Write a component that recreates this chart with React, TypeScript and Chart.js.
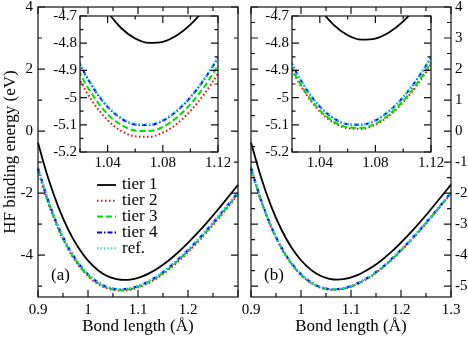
import React, { useEffect, useRef } from "react";
import { Chart, registerables } from "chart.js";

Chart.register(...registerables);

// ---------------- data ----------------
const BOND = [0.90, 0.92, 0.94, 0.96, 0.98, 1.00, 1.02, 1.03, 1.04, 1.05, 1.06, 1.07, 1.08, 1.09, 1.10, 1.11, 1.12, 1.14, 1.16, 1.18, 1.20, 1.22, 1.24, 1.26, 1.28, 1.30];

const A_TIER1 = [-0.38, -1.50, -2.42, -3.16, -3.74, -4.176, -4.486, -4.598, -4.684, -4.745, -4.783, -4.799, -4.795, -4.772, -4.732, -4.675, -4.603, -4.42, -4.19, -3.915, -3.605, -3.27, -2.91, -2.53, -2.135, -1.735];
const A_TIER2 = [-1.27, -2.30, -3.135, -3.80, -4.305, -4.68, -4.935, -5.021, -5.083, -5.123, -5.142, -5.144, -5.129, -5.097, -5.049, -4.987, -4.911, -4.722, -4.486, -4.211, -3.904, -3.572, -3.216, -2.841, -2.451, -2.05];
const A_TIER3 = [-1.23, -2.26, -3.10, -3.768, -4.275, -4.652, -4.910, -4.997, -5.061, -5.101, -5.121, -5.123, -5.108, -5.074, -5.024, -4.960, -4.881, -4.691, -4.454, -4.177, -3.868, -3.537, -3.181, -2.806, -2.416, -2.015];
const A_TIER4 = [-1.19, -2.22, -3.06, -3.725, -4.235, -4.613, -4.876, -4.967, -5.034, -5.077, -5.099, -5.101, -5.085, -5.050, -4.999, -4.933, -4.853, -4.66, -4.42, -4.14, -3.83, -3.495, -3.14, -2.765, -2.375, -1.975];
const REF = [-1.18, -2.21, -3.05, -3.72, -4.23, -4.61, -4.873, -4.964, -5.031, -5.074, -5.096, -5.098, -5.082, -5.047, -4.996, -4.930, -4.850, -4.656, -4.416, -4.137, -3.826, -3.492, -3.136, -2.761, -2.371, -1.970];

const B_TIER1 = [-0.37, -1.49, -2.41, -3.15, -3.73, -4.165, -4.474, -4.586, -4.672, -4.733, -4.771, -4.787, -4.783, -4.760, -4.720, -4.663, -4.591, -4.41, -4.18, -3.905, -3.595, -3.26, -2.90, -2.52, -2.125, -1.725];
const B_TIER2 = [-1.22, -2.25, -3.09, -3.756, -4.263, -4.64, -4.898, -4.986, -5.051, -5.092, -5.113, -5.115, -5.100, -5.066, -5.017, -4.953, -4.876, -4.685, -4.447, -4.17, -3.86, -3.526, -3.171, -2.796, -2.406, -2.005];
const B_TIER3 = [-1.21, -2.24, -3.08, -3.748, -4.256, -4.634, -4.893, -4.982, -5.047, -5.088, -5.109, -5.111, -5.096, -5.062, -5.012, -4.948, -4.870, -4.678, -4.440, -4.162, -3.851, -3.517, -3.161, -2.786, -2.396, -1.995];
const B_TIER4 = [-1.185, -2.215, -3.055, -3.722, -4.232, -4.612, -4.875, -4.966, -5.033, -5.076, -5.098, -5.100, -5.084, -5.049, -4.998, -4.932, -4.852, -4.658, -4.418, -4.139, -3.828, -3.494, -3.138, -2.763, -2.373, -1.972];

const LEGEND_LABELS = ["tier 1", "tier 2", "tier 3", "tier 4", "ref."];
const PANEL_LABELS = ["(a)", "(b)"];
const X_TITLE = "Bond length (\u00C5)";
const Y_TITLE = "HF binding energy (eV)";

// ticks
const MAIN_X_MAJOR = [0.9, 1.0, 1.1, 1.2, 1.3];
const MAIN_X_MINOR = [0.95, 1.05, 1.15, 1.25];
const A_X_LABELS = ["0.9", "1", "1.1", "1.2", ""];
const B_X_LABELS = ["0.9", "1", "1.1", "1.2", "1.3"];
const A_Y_MAJOR = [-4, -2, 0, 2, 4];
const A_Y_MINOR = [-5, -3, -1, 1, 3];
const A_Y_LABELS = ["-4", "-2", "0", "2", "4"];
const B_Y_MAJOR = [-5, -4, -3, -2, -1, 0, 1, 2, 3, 4];
const B_Y_MINOR = [-4.5, -3.5, -2.5, -1.5, -0.5, 0.5, 1.5, 2.5, 3.5];
const B_Y_LABELS = ["-5", "-4", "-3", "-2", "-1", "0", "1", "2", "3", "4"];
const INSET_X_MAJOR = [1.04, 1.08, 1.12];
const INSET_X_MINOR = [1.02, 1.06, 1.10];
const INSET_X_LABELS = ["1.04", "1.08", "1.12"];
const INSET_Y_MAJOR = [-5.2, -5.1, -5.0, -4.9, -4.8, -4.7];
const INSET_Y_MINOR = [-5.15, -5.05, -4.95, -4.85, -4.75];
const INSET_Y_LABELS = ["-5.2", "-5.1", "-5", "-4.9", "-4.8", "-4.7"];

// ---------------- styles ----------------
const FONT = "'Liberation Serif', 'Times New Roman', serif";
const SERIES_STYLE = [
  { color: "#000000", dash: [] as number[], width: 1.8, order: 4 },
  { color: "#ff0000", dash: [1.5, 2.5], width: 2, order: 3 },
  { color: "#00dd00", dash: [6, 3], width: 2, order: 2 },
  { color: "#0000ff", dash: [5, 2, 1.5, 2], width: 2, order: 1 },
  { color: "#22ddee", dash: [1.5, 2], width: 2, order: 0 },
];

type Spec = {
  left: number; top: number; width: number; height: number;
  padding: { left: number; top: number; right: number; bottom: number };
  xMin: number; xMax: number; yMin: number; yMax: number;
  xMajor: number[]; xMinor: number[]; xLabels: string[];
  yMajor: number[]; yMinor: number[]; yLabels: string[];
  yPos: "left" | "right";
  yAxisWidth: number; xAxisHeight: number;
  xPad: number; yPad: number;
  xTitle?: string; yTitle?: string;
  series: number[][];
  majorLen: number; minorLen: number;
  inset: boolean;
  panelLabel?: string; legend?: boolean;
};

const PANEL_A: Spec = {
  left: 0, top: 0, width: 245, height: 337,
  padding: { left: 0, top: 7, right: 7, bottom: 0 },
  xMin: 0.9, xMax: 1.3, yMin: -5.35, yMax: 4,
  xMajor: MAIN_X_MAJOR, xMinor: MAIN_X_MINOR, xLabels: A_X_LABELS,
  yMajor: A_Y_MAJOR, yMinor: A_Y_MINOR, yLabels: A_Y_LABELS,
  yPos: "left", yAxisWidth: 38, xAxisHeight: 40, xPad: 4, yPad: 5,
  xTitle: X_TITLE, yTitle: Y_TITLE,
  series: [A_TIER1, A_TIER2, A_TIER3, A_TIER4, REF],
  majorLen: 7, minorLen: 4, inset: false, panelLabel: PANEL_LABELS[0], legend: true,
};

const PANEL_B: Spec = {
  left: 232, top: 0, width: 236, height: 337,
  padding: { left: 19, top: 7, right: 0, bottom: 0 },
  xMin: 0.9, xMax: 1.3, yMin: -5.35, yMax: 4,
  xMajor: MAIN_X_MAJOR, xMinor: MAIN_X_MINOR, xLabels: B_X_LABELS,
  yMajor: B_Y_MAJOR, yMinor: B_Y_MINOR, yLabels: B_Y_LABELS,
  yPos: "right", yAxisWidth: 17, xAxisHeight: 40, xPad: 4, yPad: 4,
  xTitle: X_TITLE,
  series: [B_TIER1, B_TIER2, B_TIER3, B_TIER4, REF],
  majorLen: 7, minorLen: 4, inset: false, panelLabel: PANEL_LABELS[1],
};

const INSET_A: Spec = {
  left: 40, top: 0, width: 190, height: 170,
  padding: { left: 0, top: 16, right: 12, bottom: 0 },
  xMin: 1.02, xMax: 1.12, yMin: -5.2, yMax: -4.7,
  xMajor: INSET_X_MAJOR, xMinor: INSET_X_MINOR, xLabels: INSET_X_LABELS,
  yMajor: INSET_Y_MAJOR, yMinor: INSET_Y_MINOR, yLabels: INSET_Y_LABELS,
  yPos: "left", yAxisWidth: 40, xAxisHeight: 18, xPad: 2, yPad: 3,
  series: [A_TIER1, A_TIER2, A_TIER3, A_TIER4, REF],
  majorLen: 7, minorLen: 3.5, inset: true,
};

const INSET_B: Spec = {
  ...INSET_A,
  left: 252,
  width: 200,
  padding: { left: 0, top: 16, right: 21, bottom: 0 },
  series: [B_TIER1, B_TIER2, B_TIER3, B_TIER4, REF],
};

function framePlugin(s: Spec) {
  return {
    id: "frame",
    beforeDraw(chart: any) {
      if (!s.inset) return;
      const { ctx, chartArea: a } = chart;
      ctx.save();
      ctx.fillStyle = "#ffffff";
      ctx.fillRect(a.left, a.top, a.right - a.left, a.bottom - a.top);
      ctx.restore();
    },
    afterDraw(chart: any) {
      const { ctx, chartArea: a } = chart;
      const xs = chart.scales.x;
      const ys = chart.scales.y;
      ctx.save();
      ctx.setLineDash([]);
      ctx.strokeStyle = "#111111";
      ctx.lineWidth = 1.2;
      ctx.beginPath();
      const xt = (vals: number[], len: number) => {
        vals.forEach((v) => {
          const p = xs.getPixelForValue(v);
          ctx.moveTo(p, a.bottom); ctx.lineTo(p, a.bottom - len);
          ctx.moveTo(p, a.top); ctx.lineTo(p, a.top + len);
        });
      };
      const yt = (vals: number[], len: number) => {
        vals.forEach((v) => {
          const p = ys.getPixelForValue(v);
          ctx.moveTo(a.left, p); ctx.lineTo(a.left + len, p);
          ctx.moveTo(a.right, p); ctx.lineTo(a.right - len, p);
        });
      };
      xt(s.xMajor, s.majorLen); xt(s.xMinor, s.minorLen);
      yt(s.yMajor, s.majorLen); yt(s.yMinor, s.minorLen);
      ctx.stroke();
      ctx.strokeRect(a.left, a.top, a.right - a.left, a.bottom - a.top);

      ctx.fillStyle = "#000000";
      ctx.font = `17px ${FONT}`;
      ctx.textBaseline = "middle";
      ctx.textAlign = "left";
      if (s.panelLabel) {
        ctx.fillText(s.panelLabel, a.left + 13, a.top + 269);
      }
      if (s.legend) {
        LEGEND_LABELS.forEach((lab, i) => {
          const st = SERIES_STYLE[i];
          const y = a.top + 178 + i * 15.8;
          ctx.save();
          ctx.strokeStyle = st.color;
          ctx.lineWidth = st.width;
          ctx.setLineDash(st.dash);
          ctx.beginPath();
          ctx.moveTo(a.left + 59, y);
          ctx.lineTo(a.left + 78, y);
          ctx.stroke();
          ctx.restore();
          ctx.fillText(lab, a.left + 84, y);
        });
      }
      ctx.restore();
    },
  };
}

function buildChart(canvas: HTMLCanvasElement, s: Spec) {
  const datasets = SERIES_STYLE.map((st, i) => ({
    label: LEGEND_LABELS[i],
    data: BOND.map((r, k) => ({ x: r, y: s.series[i][k] })),
    borderColor: st.color,
    backgroundColor: st.color,
    borderWidth: st.width,
    borderDash: st.dash,
    pointRadius: 0,
    cubicInterpolationMode: "monotone" as const,
    fill: false,
    order: st.order,
    clip: s.inset ? 0 : 1,
  }));
  const tickFont = { family: FONT, size: 15 };
  return new Chart(canvas, {
    type: "line",
    data: { datasets },
    options: {
      animation: false,
      responsive: false,
      devicePixelRatio: 1,
      events: [],
      layout: { padding: s.padding },
      plugins: { legend: { display: false }, tooltip: { enabled: false } },
      scales: {
        x: {
          type: "linear",
          min: s.xMin,
          max: s.xMax,
          grid: { display: false, drawTicks: false },
          border: { display: false },
          afterBuildTicks: (sc: any) => { sc.ticks = s.xMajor.map((v) => ({ value: v })); },
          afterFit: (sc: any) => { sc.height = s.xAxisHeight; sc.paddingLeft = 0; sc.paddingRight = 0; },
          ticks: {
            autoSkip: false, maxRotation: 0, minRotation: 0, padding: s.xPad,
            color: "#000", font: tickFont,
            callback: (_v: any, i: number) => s.xLabels[i],
          },
          title: {
            display: !!s.xTitle, text: s.xTitle || "", color: "#000",
            font: { family: FONT, size: 17 }, padding: { top: 0, bottom: 0 },
          },
        },
        y: {
          type: "linear",
          position: s.yPos,
          min: s.yMin,
          max: s.yMax,
          grid: { display: false, drawTicks: false },
          border: { display: false },
          afterBuildTicks: (sc: any) => { sc.ticks = s.yMajor.map((v) => ({ value: v })); },
          afterFit: (sc: any) => { sc.width = s.yAxisWidth; sc.paddingTop = 0; sc.paddingBottom = 0; },
          ticks: {
            autoSkip: false, padding: s.yPad, color: "#000", font: tickFont,
            callback: (_v: any, i: number) => s.yLabels[i],
          },
          title: {
            display: !!s.yTitle, text: s.yTitle || "", color: "#000",
            font: { family: FONT, size: 17 }, padding: { top: 0, bottom: 0 },
          },
        },
      },
    } as any,
    plugins: [framePlugin(s)],
  });
}

function ChartCanvas({ spec }: { spec: Spec }) {
  const ref = useRef<HTMLCanvasElement>(null);
  useEffect(() => {
    if (!ref.current) return;
    const c = buildChart(ref.current, spec);
    return () => c.destroy();
  }, [spec]);
  return (
    <canvas
      ref={ref}
      width={spec.width}
      height={spec.height}
      style={{ position: "absolute", left: spec.left, top: spec.top, width: spec.width, height: spec.height }}
    />
  );
}

export default function App() {
  return (
    <div style={{ position: "fixed", left: 0, top: 0, width: 468, height: 337, background: "#ffffff", overflow: "hidden" }}>
      <ChartCanvas spec={PANEL_A} />
      <ChartCanvas spec={PANEL_B} />
      <ChartCanvas spec={INSET_A} />
      <ChartCanvas spec={INSET_B} />
    </div>
  );
}
